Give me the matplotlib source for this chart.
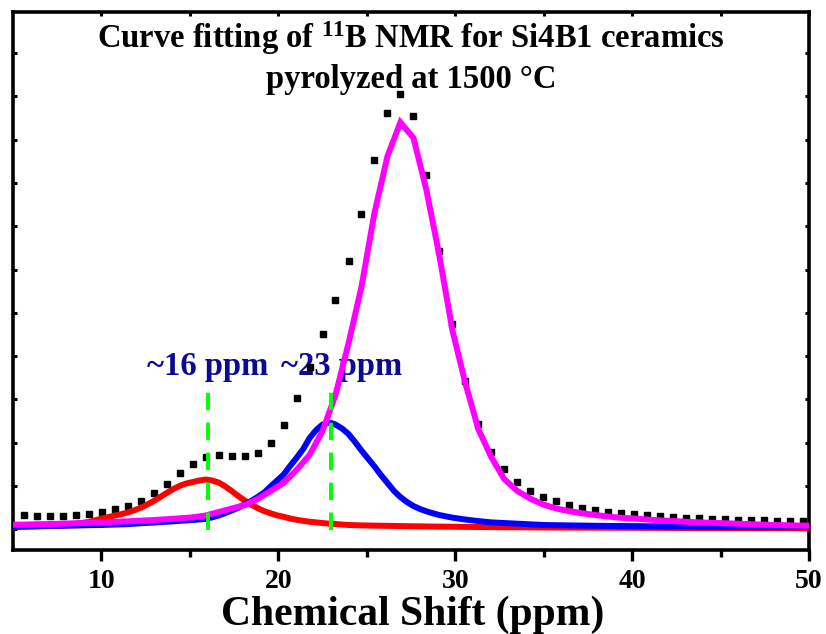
import matplotlib
matplotlib.use("Agg")
import matplotlib.pyplot as plt

plt.rcParams['font.family'] = ['Liberation Serif', 'DejaVu Serif']
plt.rcParams['font.weight'] = 'bold'
plt.rcParams['mathtext.fontset'] = 'custom'
plt.rcParams['mathtext.rm'] = 'Liberation Serif:bold'
plt.rcParams['mathtext.bf'] = 'Liberation Serif:bold'
plt.rcParams['mathtext.it'] = 'Liberation Serif:bold'

# chemical shift (ppm) of the experimental points
shift_exp = [5.62, 6.36, 7.09, 7.82, 8.56, 9.29, 10.03, 10.76, 11.49, 12.23,
             12.96, 13.69, 14.43, 15.16, 15.89, 16.63, 17.36, 18.10, 18.83, 19.56,
             20.30, 21.03, 21.77, 22.50, 23.23, 23.97, 24.70, 25.43, 26.17, 26.90,
             27.64, 28.37, 29.10, 29.84, 30.57, 31.31, 32.04, 32.77, 33.51, 34.24,
             34.97, 35.71, 36.44, 37.18, 37.91, 38.64, 39.38, 40.11, 40.84, 41.58,
             42.31, 43.05, 43.78, 44.51, 45.25, 45.98, 46.72, 47.45, 48.18, 48.92,
             49.65]
intensity_exp = [0.33, 0.31, 0.31, 0.31, 0.34, 0.36, 0.40, 0.46, 0.54, 0.66,
                 0.83, 1.05, 1.30, 1.52, 1.68, 1.72, 1.70, 1.69, 1.76, 1.99,
                 2.42, 3.03, 3.76, 4.51, 5.30, 6.19, 7.28, 8.53, 9.61, 10.05,
                 9.54, 8.18, 6.43, 4.74, 3.43, 2.43, 1.79, 1.39, 1.09, 0.89,
                 0.75, 0.65, 0.57, 0.50, 0.45, 0.41, 0.37, 0.36, 0.33, 0.31,
                 0.29, 0.27, 0.25, 0.24, 0.23, 0.22, 0.215, 0.21, 0.20, 0.20,
                 0.19]

# fitted component at ~16 ppm (red)
shift_16 = [4.89, 5.62, 6.36, 7.09, 7.82, 8.56, 9.29,
            10.03, 10.39, 10.76, 11.13, 11.49, 11.86, 12.23, 12.59, 12.96, 13.33,
            13.69, 14.06, 14.43, 14.79, 15.16, 15.53, 15.90, 16.26, 16.63, 17.00,
            17.36, 17.73, 18.10, 18.46, 18.83, 19.20, 19.56, 19.93, 20.30, 20.66,
            21.03, 21.40, 21.77, 22.13, 22.50, 22.87, 23.23, 23.60, 23.97, 24.33,
            24.70,
            25.43, 26.17, 26.90, 27.64, 28.37, 29.10, 29.84, 30.57, 31.31, 32.04,
            32.77, 33.51, 34.24, 34.97, 35.71, 36.44, 37.18, 37.91, 38.64, 39.38,
            40.11, 40.84, 41.58, 42.31, 43.05, 43.78, 44.51, 45.25, 45.98, 46.72,
            47.45, 48.18, 48.92, 49.65, 50.39]
fit_16ppm = [0.055, 0.06, 0.07, 0.085, 0.10, 0.13, 0.17,
             0.25, 0.284, 0.32, 0.35, 0.39, 0.44, 0.50, 0.573, 0.654, 0.746,
             0.84, 0.93, 1.005, 1.058, 1.092, 1.127, 1.15, 1.127, 1.08, 0.99,
             0.885, 0.77, 0.665, 0.573, 0.49, 0.42, 0.37, 0.323, 0.289, 0.25,
             0.22, 0.196, 0.175, 0.16, 0.145, 0.13, 0.122, 0.11, 0.10, 0.095,
             0.09,
             0.085, 0.08, 0.075, 0.07, 0.066, 0.062, 0.059, 0.056, 0.053, 0.05,
             0.048, 0.046, 0.044, 0.042, 0.04, 0.039, 0.038, 0.037, 0.036, 0.035,
             0.034, 0.033, 0.032, 0.031, 0.030, 0.029, 0.028, 0.028, 0.027, 0.026,
             0.026, 0.025, 0.025, 0.024, 0.024]

# fitted component at ~23 ppm (blue)
shift_23 = [4.89, 5.62, 6.36, 7.09, 7.82, 8.56, 9.29, 10.03, 10.76, 11.49,
            12.23, 12.96, 13.69, 14.43, 15.16,
            15.90, 16.26, 16.63, 17.00, 17.36, 17.73, 18.10, 18.46, 18.83, 19.20,
            19.56, 19.93, 20.30, 20.66, 21.03, 21.40, 21.77, 22.13, 22.50, 22.87,
            23.23, 23.60, 23.97, 24.33, 24.70, 25.07, 25.44, 25.80, 26.17, 26.54,
            26.90, 27.27, 27.64, 28.00, 28.37, 28.74, 29.10,
            29.84, 30.57, 31.31, 32.04, 32.77, 33.51, 34.24, 34.97, 35.71, 36.44,
            37.18, 37.91, 38.64, 39.38, 40.11, 40.84, 41.58, 42.31, 43.05, 43.78,
            44.51, 45.25, 45.98, 46.72, 47.45, 48.18, 48.92, 49.65, 50.39]
fit_23ppm = [0.06, 0.065, 0.07, 0.076, 0.08, 0.088, 0.095, 0.10, 0.11, 0.12,
             0.14, 0.157, 0.175, 0.196, 0.215,
             0.24, 0.277, 0.32, 0.376, 0.434, 0.497, 0.577, 0.654, 0.746, 0.85,
             0.99, 1.127, 1.266, 1.46, 1.65, 1.85, 2.11, 2.29, 2.42, 2.47,
             2.42, 2.33, 2.20, 2.02, 1.82, 1.635, 1.45, 1.254, 1.07, 0.885,
             0.746, 0.63, 0.538, 0.47, 0.416, 0.37, 0.33,
             0.27, 0.226, 0.19, 0.16, 0.145, 0.13, 0.115, 0.10, 0.095, 0.09,
             0.086, 0.082, 0.079, 0.076, 0.073, 0.071, 0.069, 0.067, 0.065, 0.063,
             0.062, 0.06, 0.059, 0.058, 0.057, 0.056, 0.055, 0.054, 0.053]

# fitted component at ~27 ppm (magenta)
shift_27 = [4.89] + shift_exp + [50.39]
fit_27ppm = [0.105, 0.11, 0.118, 0.122, 0.13, 0.14, 0.15, 0.16, 0.173, 0.185, 0.20,
             0.215, 0.233, 0.254, 0.277, 0.32, 0.40, 0.48, 0.56, 0.70, 0.885,
             1.07, 1.37, 1.72, 2.27, 3.10, 4.30, 5.60, 7.30, 8.62, 9.40,
             9.04, 7.84, 6.33, 4.60, 3.38, 2.31, 1.67, 1.16, 0.885, 0.71,
             0.573, 0.48, 0.42, 0.37, 0.33, 0.296, 0.266, 0.25, 0.226, 0.208,
             0.19, 0.175, 0.16, 0.15, 0.14, 0.13, 0.118, 0.108, 0.10, 0.092,
             0.085, 0.083]

peak_positions = [16, 23]
peak_labels = ['~16 ppm', '~23 ppm']
peak_label_x = [16.0, 23.6]

xticks_major = [10, 20, 30, 40, 50]
xticks_minor = [15, 25, 35, 45]
yticks = list(range(12))

fig = plt.figure(figsize=(8.26, 6.34), dpi=100)
ax = fig.add_axes([13/826, 1 - 550/634, 796/826, 538/634])

ax.plot(shift_exp, intensity_exp, linestyle='none', marker='s', markersize=5.0,
        color='black', zorder=3)
ax.plot(shift_16, fit_16ppm, color='#ff0000', lw=4.3, zorder=4)
ax.plot(shift_23, fit_23ppm, color='#0000ff', lw=4.3, zorder=5)
ax.plot(shift_27, fit_27ppm, color='#ff00ff', lw=4.3, zorder=6, solid_joinstyle='miter')

for p in peak_positions:
    ax.plot([p, p], [-0.02, 3.27], color='#00ff00', lw=2.8, linestyle=(0, (4.5, 3.2)),
            zorder=7)

for lx, lab in zip(peak_label_x, peak_labels):
    ax.text(lx, 3.56, lab, color='#0a0a96', fontsize=23.5, fontweight='bold',
            ha='center', va='baseline', zorder=2)

ax.text(0.5, 0.933, 'Curve fitting of $^{11}$B NMR for Si4B1 ceramics',
        transform=ax.transAxes, ha='center', va='baseline', fontsize=23.5,
        fontweight='bold', color='black')
ax.text(0.5, 0.8587, 'pyrolyzed at 1500 \u00b0C',
        transform=ax.transAxes, ha='center', va='baseline', fontsize=23.5,
        fontweight='bold', color='black')

ax.set_xlim(5, 50)
ax.set_ylim(-0.478, 11.95)
ax.set_xticks(xticks_major)
ax.set_xticks(xticks_minor, minor=True)
ax.set_yticks(yticks)
ax.set_yticklabels([])

ax.tick_params(axis='x', which='major', direction='out', length=8, width=2.4,
               labelsize=20, pad=6, top=False)
ax.tick_params(axis='x', which='minor', direction='out', length=5, width=2.4, top=False)
ax.tick_params(axis='y', which='major', direction='in', length=3, width=2.2,
               left=True, right=True)
for lab in ax.get_xticklabels():
    lab.set_fontweight('bold')

# small ticks on top spine
sec = ax.secondary_xaxis('top')
sec.set_xticks(xticks_major + xticks_minor)
sec.set_xticklabels([])
sec.tick_params(direction='in', length=3, width=2.2)
sec.spines['top'].set_visible(False)

for s in ax.spines.values():
    s.set_linewidth(2.6)

ax.set_xlabel('Chemical Shift (ppm)', fontsize=30, fontweight='bold', va='baseline')
ax.xaxis.set_label_coords(0.5025, -0.1394)

fig.savefig('out.png', dpi=100)
